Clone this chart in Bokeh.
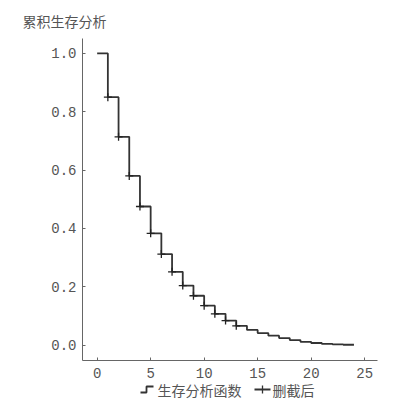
from bokeh.plotting import figure
from bokeh.layouts import column
from bokeh.models import Range1d, FixedTicker, CustomJSTickFormatter
from bokeh.core.properties import value
from bokeh.embed import file_html
from bokeh.resources import INLINE

# Data
times = [0, 1, 2, 3, 4, 5, 6, 7, 8, 9, 10, 11, 12, 13, 14, 15, 16, 17, 18, 19, 20, 21, 22, 23]
end_time = 24
survival = [1.0, 0.85, 0.714, 0.58, 0.475, 0.383, 0.312, 0.251, 0.204, 0.169, 0.135, 0.107,
            0.084, 0.066, 0.052, 0.041, 0.032, 0.024, 0.017, 0.011, 0.007, 0.004, 0.002, 0.001]
censor_times = [1, 2, 3, 4, 5, 6, 7, 8, 9, 10, 11, 12, 13]
censor_values = [0.85, 0.714, 0.58, 0.475, 0.383, 0.312, 0.251, 0.204, 0.169, 0.135, 0.107, 0.084, 0.066]
x_ticks = [0, 5, 10, 15, 20, 25]
y_ticks = [0.0, 0.2, 0.4, 0.6, 0.8, 1.0]
title_text = "累积生存分析"
legend_labels = ["生存分析函数", "删截后"]

CJK = "Noto Sans CJK SC"
NUM = "Liberation Mono"
TXT = "#555555"
LINE = "#333333"


def strip(h):
    s = figure(width=394, height=h, output_backend="svg", toolbar_location=None,
               x_axis_type=None, y_axis_type=None,
               x_range=Range1d(0, 394), y_range=Range1d(h, 0),
               min_border=0, min_border_left=0, min_border_right=0,
               min_border_top=0, min_border_bottom=0)
    s.frame_align = False
    s.grid.visible = False
    s.outline_line_color = None
    return s


# Title strip
top = strip(30)
top.text([22], [20], text=[title_text], text_font=value(CJK), text_font_size="14px",
         text_color=TXT, text_baseline="middle", text_align="left")

# Main plot
p = figure(width=394, height=350, output_backend="svg", toolbar_location=None,
           x_range=Range1d(-1.37, 26.2), y_range=Range1d(-0.053, 1.051),
           min_border_left=82, min_border_right=17, min_border_top=8, min_border_bottom=19)
p.frame_align = False
p.outline_line_color = None
p.xgrid.visible = False
p.ygrid.visible = False

for ax, ticks in ((p.xaxis, x_ticks), (p.yaxis, y_ticks)):
    ax.ticker = FixedTicker(ticks=ticks)
    ax.minor_tick_line_color = None
    ax.major_tick_in = 3
    ax.major_tick_out = 0
    ax.axis_line_color = "#666666"
    ax.major_tick_line_color = "#666666"
    ax.major_label_text_font = NUM
    ax.major_label_text_font_size = "14px"
    ax.major_label_text_color = TXT
p.yaxis.major_label_standoff = 6
p.xaxis.major_label_standoff = 7
p.yaxis.formatter = CustomJSTickFormatter(code="return tick.toFixed(1);")

step_x = times + [end_time]
step_y = survival + [survival[-1]]
p.step(step_x, step_y, mode="after", line_color=LINE, line_width=1.8)
p.scatter(censor_times, censor_values, marker="cross", size=8, line_color="#222222", line_width=1.3)

# Legend strip
lg = strip(30)
cy = 9
lg.line([140, 146, 146, 153], [cy + 3, cy + 3, cy - 3, cy - 3], line_color=LINE, line_width=1.8)
lg.text([157], [cy], text=[legend_labels[0]], text_font=value(CJK), text_font_size="14px",
        text_color=TXT, text_baseline="middle", text_align="left")
lg.line([254, 270], [cy, cy], line_color=LINE, line_width=1.8)
lg.line([262, 262], [cy - 4, cy + 4], line_color=LINE, line_width=1.3)
lg.text([272], [cy], text=[legend_labels[1]], text_font=value(CJK), text_font_size="14px",
        text_color=TXT, text_baseline="middle", text_align="left")

layout = column(top, p, lg, spacing=0)
open("out.html", "w").write(file_html(layout, INLINE))
